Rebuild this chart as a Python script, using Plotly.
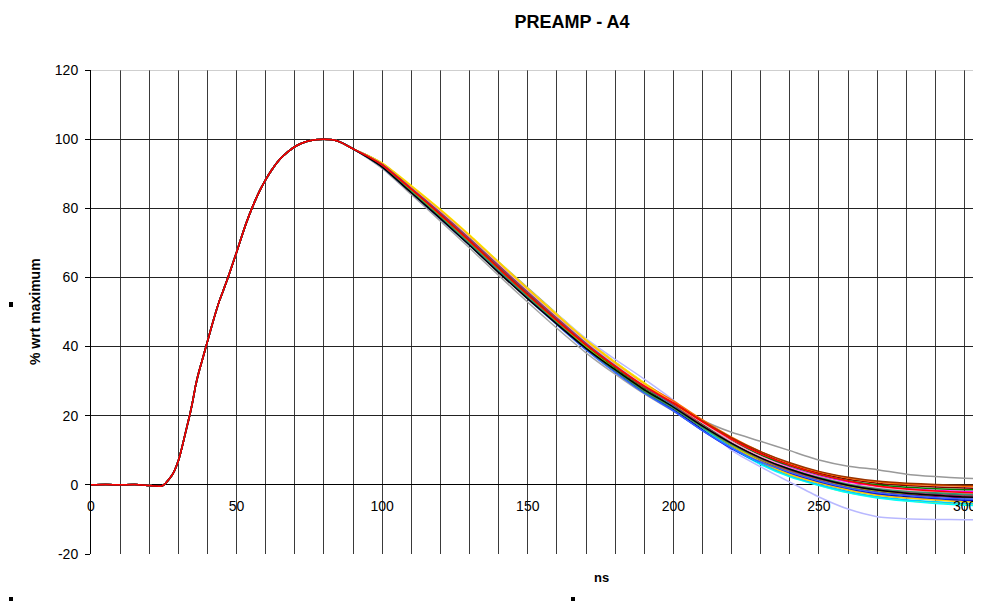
import plotly.graph_objects as go

# ---------------- data ----------------
# time in ns; rising edge is common to all channels (within pixel precision)
t_rise = [0, 5, 10, 15, 20, 22, 24, 25, 26, 28, 30, 31, 32, 33, 34, 35, 36, 37, 38, 39,
          40, 42, 44, 46, 48, 50, 52, 54, 56, 58, 60, 62, 65, 68, 71, 74, 77, 80, 83, 86, 90]
rise = [0.0, 0.1, 0.0, 0.1, -0.2, -0.3, -0.4, 0.0, 0.8, 3.0, 7.0, 10.0, 13.5, 17.0, 20.5, 24.5,
        29.0, 32.5, 35.5, 38.5, 41.5, 47.5, 53.0, 57.5, 62.3, 67.3, 72.5, 77.3, 81.5, 85.2,
        88.3, 91.0, 94.3, 96.6, 98.3, 99.3, 99.85, 100.0, 99.8, 99.0, 97.2]

t_fall = [95, 100, 110, 120, 130, 140, 150, 160, 170, 180, 190, 200, 210, 220, 230, 240,
          250, 260, 270, 280, 290, 300, 306]

fall_gray_lo = [94.5, 91.5, 84.0, 76.3, 68.5, 60.6, 52.8, 45.3, 38.2, 32.0, 26.3, 21.3, 15.8,
                10.8, 6.6, 3.4, 1.0, -0.8, -2.0, -2.8, -3.3, -3.7, -3.8]
fall_gray_hi = [95.3, 93.0, 86.3, 79.3, 72.0, 64.5, 57.0, 49.5, 42.0, 35.5, 29.5, 24.0, 18.7,
                15.2, 12.6, 9.9, 7.2, 5.4, 4.4, 3.1, 2.4, 1.9, 1.7]
fall_lavender = [95.0, 92.5, 85.8, 78.8, 71.5, 64.0, 56.5, 49.3, 42.3, 36.3, 30.6, 24.5, 17.0,
                 10.0, 5.2, 0.8, -3.5, -7.0, -9.2, -9.8, -10.0, -10.1, -10.1]
fall_navy = [94.8, 92.2, 84.9, 77.6, 70.0, 62.2, 54.5, 47.0, 39.7, 33.2, 27.2, 21.9, 16.0,
             10.8, 6.6, 3.4, 0.8, -1.1, -2.5, -3.4, -3.9, -4.4, -4.5]
fall_magenta = [95.1, 92.7, 85.9, 78.8, 71.3, 63.5, 55.8, 48.3, 41.0, 34.5, 28.5, 23.5, 17.8,
                12.7, 8.5, 5.1, 2.6, 0.8, -0.4, -1.1, -1.6, -1.9, -2.0]
fall_yellow = [95.3, 93.1, 86.6, 79.7, 72.3, 64.5, 56.8, 49.3, 42.0, 35.5, 29.5, 23.5, 16.9,
               11.0, 6.2, 2.5, -0.1, -2.2, -3.6, -4.6, -5.2, -5.7, -5.8]
fall_cyan = [95.2, 92.9, 86.2, 79.2, 71.8, 64.0, 56.3, 48.8, 41.5, 35.0, 29.0, 23.1, 16.5,
             10.7, 5.9, 2.3, -0.2, -2.3, -3.8, -4.7, -5.4, -5.9, -6.0]
fall_purple = [94.9, 92.3, 85.2, 77.9, 70.3, 62.5, 54.8, 47.3, 40.0, 33.5, 27.5, 22.3, 16.5,
               11.3, 7.1, 3.9, 1.3, -0.6, -1.9, -2.8, -3.3, -3.7, -3.8]
fall_darkred = [95.2, 92.8, 86.1, 79.0, 71.6, 63.8, 56.1, 48.6, 41.3, 34.8, 28.8, 23.9, 18.4,
                13.4, 9.2, 5.8, 3.4, 1.6, 0.5, -0.2, -0.6, -0.9, -1.0]
fall_teal = [95.1, 92.6, 85.7, 78.6, 71.1, 63.3, 55.6, 48.1, 40.8, 34.3, 28.3, 23.1, 17.3,
             12.1, 7.8, 4.4, 1.9, 0.0, -1.2, -2.0, -2.5, -2.9, -3.0]
fall_blue = [94.8, 92.0, 84.7, 77.2, 69.6, 61.8, 54.1, 46.6, 39.3, 32.8, 26.8, 21.5, 15.7,
             10.5, 6.3, 3.2, 0.6, -1.4, -2.8, -3.7, -4.2, -4.7, -4.8]
fall_orange = [95.2, 93.0, 86.3, 79.4, 72.0, 64.2, 56.5, 49.0, 41.7, 35.2, 29.2, 24.3, 18.8,
               13.8, 9.6, 6.2, 3.7, 2.0, 0.9, 0.2, -0.1, -0.4, -0.5]
fall_green = [94.9, 92.4, 85.3, 78.0, 70.5, 62.7, 55.0, 47.5, 40.2, 33.7, 27.7, 22.9, 17.5,
              12.7, 8.6, 5.5, 3.0, 1.2, 0.0, -0.7, -1.1, -1.4, -1.5]
fall_sky = [95.1, 92.7, 85.9, 78.8, 71.4, 63.6, 55.9, 48.4, 41.1, 34.6, 28.6, 22.8, 16.5,
            10.8, 6.2, 2.7, 0.1, -1.9, -3.4, -4.3, -4.9, -5.4, -5.5]
fall_pink = [95.2, 92.9, 86.2, 79.2, 71.8, 64.0, 56.3, 48.8, 41.5, 35.0, 29.0, 23.8, 17.9,
             12.6, 8.2, 4.8, 2.3, 0.4, -0.8, -1.6, -2.0, -2.4, -2.5]
fall_gold = [95.3, 93.0, 86.4, 79.5, 72.1, 64.3, 56.6, 49.1, 41.8, 35.3, 29.3, 23.5, 17.1,
             11.4, 6.7, 3.0, 0.5, -1.5, -3.0, -3.8, -4.4, -4.9, -5.0]
fall_lime = [94.9, 92.3, 85.1, 77.8, 70.2, 62.4, 54.7, 47.2, 39.9, 33.4, 27.4, 22.3, 16.6,
             11.5, 7.3, 4.1, 1.6, -0.4, -1.7, -2.5, -3.0, -3.4, -3.5]
fall_brown = [95.0, 92.6, 85.6, 78.5, 71.0, 63.2, 55.5, 48.0, 40.7, 34.2, 28.2, 23.6, 18.4,
              13.6, 9.6, 6.4, 3.9, 2.2, 1.1, 0.5, 0.1, -0.1, -0.2]
fall_royal = [94.7, 91.9, 84.5, 76.9, 69.3, 61.5, 53.8, 46.3, 39.0, 32.5, 26.5, 21.4, 15.7,
              10.7, 6.6, 3.6, 1.1, -0.9, -2.3, -3.1, -3.7, -4.1, -4.2]
fall_seagreen = [94.8, 92.1, 84.8, 77.4, 69.8, 62.0, 54.3, 46.8, 39.5, 33.0, 27.0, 22.1, 16.6,
                 11.7, 7.6, 4.6, 2.1, 0.2, -1.1, -1.9, -2.3, -2.7, -2.8]
fall_plum = [95.1, 92.7, 85.8, 78.7, 71.2, 63.4, 55.7, 48.2, 40.9, 34.4, 28.4, 23.1, 17.2,
             12.0, 7.6, 4.2, 1.7, -0.2, -1.5, -2.3, -2.8, -3.2, -3.3]
fall_black = [94.7, 91.9, 84.5, 77.0, 69.3, 61.4, 53.8, 46.5, 39.5, 33.3, 27.5, 22.5, 17.0,
              12.0, 7.8, 4.5, 1.9, -0.1, -1.5, -2.4, -3.0, -3.5, -3.6]
fall_red = [95.0, 92.5, 85.5, 78.1, 70.5, 62.6, 54.9, 47.5, 40.5, 34.3, 28.6, 23.7, 18.2,
            13.2, 9.0, 5.7, 3.1, 1.1, -0.3, -1.2, -1.8, -2.2, -2.3]

x_tick_vals = [0, 50, 100, 150, 200, 250, 300]
x_tick_text = ["0", "50", "100", "150", "200", "250", "300"]
x_grid_step = 10
y_tick_vals = [-20, 0, 20, 40, 60, 80, 100, 120]
y_tick_text = ["-20", "0", "20", "40", "60", "80", "100", "120"]

# ---------------- figure ----------------
FONT = "Liberation Sans, Arial, sans-serif"
OFF = 8                      # page body margin of the html page
W, H = 981 - OFF, 601 - OFF
ML, MR, MT, MB = 91 - OFF, 1, 70 - OFF, 47
PW, PH = W - ML - MR, H - MT - MB


def px(x_ref):
    """window pixel x -> paper fraction"""
    return (x_ref - OFF - ML) / PW


def py(y_ref):
    """window pixel y -> paper fraction"""
    return (H - MB - (y_ref - OFF)) / PH


series = [
    ("gray lo", "#A6A6A6", fall_gray_lo),
    ("gray hi", "#999999", fall_gray_hi),
    ("lavender", "#B8B8FF", fall_lavender),
    ("navy", "#000080", fall_navy),
    ("magenta", "#FF00FF", fall_magenta),
    ("yellow", "#FFFF00", fall_yellow),
    ("cyan", "#00FFFF", fall_cyan),
    ("purple", "#800080", fall_purple),
    ("dark red", "#800000", fall_darkred),
    ("teal", "#008080", fall_teal),
    ("blue", "#0000FF", fall_blue),
    ("orange", "#FF6600", fall_orange),
    ("green", "#008000", fall_green),
    ("sky", "#00CCFF", fall_sky),
    ("pink", "#FF99CC", fall_pink),
    ("gold", "#FFCC00", fall_gold),
    ("lime", "#99CC00", fall_lime),
    ("brown", "#993300", fall_brown),
    ("royal", "#3366FF", fall_royal),
    ("sea green", "#339966", fall_seagreen),
    ("plum", "#993366", fall_plum),
    ("black", "#000000", fall_black),
    ("red", "#FF0000", fall_red),
]

fig = go.Figure()
for name, color, tail in series:
    fig.add_trace(go.Scatter(
        x=t_rise + t_fall, y=rise + tail, mode="lines", name=name,
        line=dict(color=color, width=1.5, shape="spline", smoothing=0.6),
        hoverinfo="skip", showlegend=False))

fig.update_layout(
    width=W, height=H,
    margin=dict(l=ML, r=MR, t=MT, b=MB, pad=0),
    paper_bgcolor="white", plot_bgcolor="white",
    showlegend=False,
    title=dict(text="<b>PREAMP - A4</b>", x=(572 - OFF) / W, xanchor="center",
               y=1 - (21.5 - OFF) / H, yanchor="middle",
               font=dict(family=FONT, size=18, color="black")),
    xaxis=dict(range=[0, 305.3], tickmode="array", tickvals=x_tick_vals,
               ticktext=x_tick_text,
               showgrid=True, gridcolor="#3a3a3a", gridwidth=1,
               minor=dict(tick0=0, dtick=x_grid_step, showgrid=True, ticks="",
                          gridcolor="#3a3a3a", gridwidth=1),
               anchor="free", position=20 / 140,
               showline=False, zeroline=False,
               ticks="outside", ticklen=8, tickcolor="rgba(0,0,0,0)",
               tickfont=dict(family=FONT, size=14, color="black")),
    yaxis=dict(range=[-20, 120], tickmode="array", tickvals=y_tick_vals,
               ticktext=y_tick_text,
               showgrid=True, gridcolor="#222222", gridwidth=1,
               zeroline=True, zerolinecolor="black", zerolinewidth=1,
               showline=True, linecolor="black", linewidth=1,
               ticks="outside", ticklen=5, tickcolor="black",
               ticklabelstandoff=4,
               tickfont=dict(family=FONT, size=14, color="black")),
    annotations=[
        dict(text="<b>% wrt maximum</b>", textangle=-90, x=px(35), y=py(312),
             xref="paper", yref="paper", showarrow=False, xanchor="center",
             yanchor="middle", font=dict(family=FONT, size=14, color="black")),
        dict(text="<b>ns</b>", x=px(601), y=py(577), xref="paper", yref="paper",
             showarrow=False, xanchor="center", yanchor="middle",
             font=dict(family=FONT, size=13, color="black")),
    ],
    shapes=[
        dict(type="line", xref="paper", yref="y", x0=0, x1=1, y0=120, y1=120,
             line=dict(color="#A0A0A0", width=1), layer="above"),
        dict(type="rect", xref="paper", yref="paper", x0=px(9), x1=px(13),
             y0=py(307), y1=py(302), line=dict(width=0), fillcolor="black"),
        dict(type="rect", xref="paper", yref="paper", x0=px(9), x1=px(13),
             y0=py(601), y1=py(597), line=dict(width=0), fillcolor="black"),
        dict(type="rect", xref="paper", yref="paper", x0=px(571), x1=px(575),
             y0=py(601), y1=py(597), line=dict(width=0), fillcolor="black"),
    ],
)

fig.write_html("out.html")
